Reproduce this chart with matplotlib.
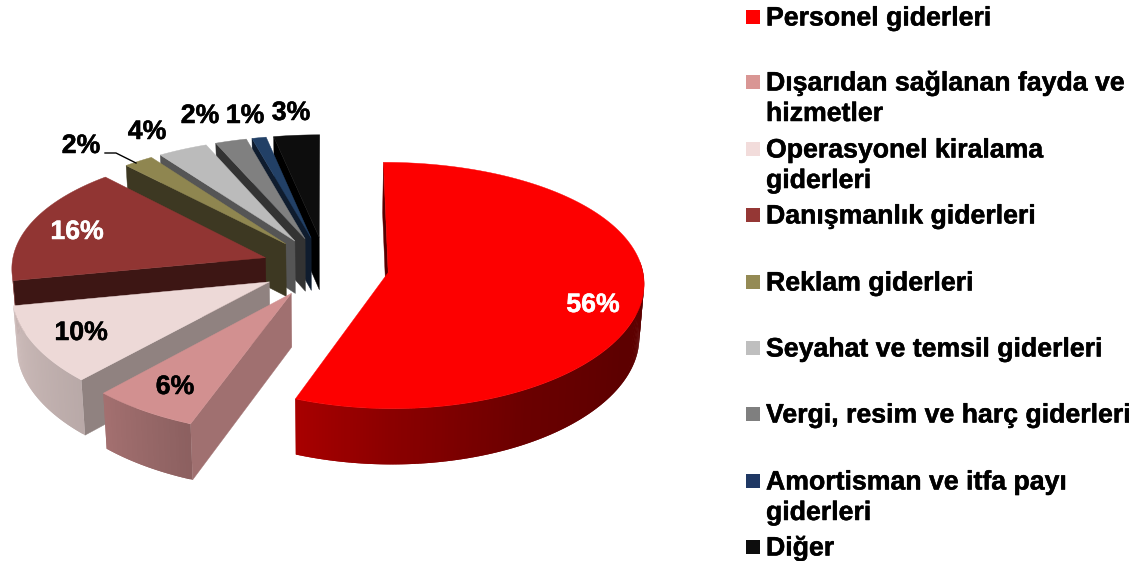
import numpy as np
import matplotlib
matplotlib.use("Agg")
import matplotlib.pyplot as plt
from matplotlib.patches import Polygon, Rectangle
import matplotlib.patheffects as pe

# ---- data ----
categories = ["Personel giderleri", "Dışarıdan sağlanan fayda ve\nhizmetler",
              "Operasyonel kiralama\ngiderleri", "Danışmanlık giderleri",
              "Reklam giderleri", "Seyahat ve temsil giderleri",
              "Vergi, resim ve harç giderleri", "Amortisman ve itfa payı\ngiderleri", "Diğer"]
values = [55.8, 6.2, 10, 16, 2.1, 3.5, 2.2, 1, 3.2]
legend_colors = ["#FF0000", "#D99694", "#F2DCDB", "#953735", "#948A54",
                 "#BFBFBF", "#7F7F7F", "#1F3864", "#0D0D0D"]
top_colors = ["#FD0000", "#D29090", "#EDD9D7", "#913533", "#8F8650",
              "#BBBBBB", "#808080", "#224066", "#0D0D0D"]
face_colors = ["#5A0000", "#A07070", "#908280", "#3D1614", "#3D3822",
               "#555555", "#333333", "#0F1C2E", "#000000"]
label_colors = ["white", "black", "black", "white", "black", "black", "black", "black", "black"]
label_pos = [(593, 305), (175, 387), (81, 333), (77, 232), (81, 146),
             (147, 132), (200, 116), (245, 116), (291, 113)]
legend_y = [17, 82, 149, 215, 282, 348, 414, 481, 547]

# ---- projection (pixel frame of the 1136x561 figure) ----
CX, CY, R_PX, B_PX = 325.5, 267.0, 254.0, 122.0
EXPLODE, PX, QY, DEPTH = 0.25, 0.075, 0.106, 53.0


def project(X, Y, down=False):
    X, Y = np.asarray(X, float), np.asarray(Y, float)
    sx = CX + R_PX * X * (1 + PX * Y)
    sy = CY + B_PX * Y * (1 + QY * Y)
    if down:
        sx = CX + (sx - CX) * 0.985
        sy = sy + DEPTH * (1 + 0.05 * Y)
    return sx, sy


def shade(theta):
    return np.interp(theta, [0, 90, 120, 150, 180, 201.6, 223, 260, 360],
                     [.36, .36, .37, .42, .55, .67, .78, .87, .87])


plt.rcParams["font.family"] = "Liberation Sans"
fig = plt.figure(figsize=(11.36, 5.61), dpi=100)
ax = fig.add_axes([0, 0, 1, 1])
ax.set_xlim(0, 1136)
ax.set_ylim(561, 0)
ax.axis("off")

edges = np.concatenate([[0], np.cumsum(values)]) * 3.6
order = list(range(len(values)))[::-1]

for n, i in enumerate(order):
    a0, a1 = edges[i], edges[i + 1]
    mid = np.radians((a0 + a1) / 2)
    ox, oy = EXPLODE * np.sin(mid), -EXPLODE * np.cos(mid)
    th = np.linspace(a0, a1, max(int((a1 - a0) * 1.5), 4))
    rim_x = ox + np.sin(np.radians(th))
    rim_y = oy - np.cos(np.radians(th))
    tx, ty = project(rim_x, rim_y)
    bx, by = project(rim_x, rim_y, down=True)
    ax_t, ay_t = project(ox, oy)
    ax_b, ay_b = project(ox, oy, down=True)
    z = 2 + n * 3
    # flat radial face at the start of the slice (the other one looks away)
    ax.add_patch(Polygon([(ax_t, ay_t), (tx[0], ty[0]), (bx[0], by[0]), (ax_b, ay_b)],
                         fc=face_colors[i], ec=face_colors[i], lw=0.3, zorder=z))
    # outer wall with a gradient along the rim, front part only
    rgb = np.array(matplotlib.colors.to_rgb(top_colors[i]))
    for k in range(len(th) - 1):
        if not 85 < th[k] < 262:
            continue
        c = rgb * shade(th[k])
        e = min(k + 2, len(th) - 1)
        ax.add_patch(Polygon([(tx[k], ty[k]), (tx[e], ty[e]), (bx[e], by[e]), (bx[k], by[k])],
                             fc=c, ec="none", zorder=z + 1))
    # top surface
    ax.add_patch(Polygon(np.vstack([[ax_t, ay_t], np.column_stack([tx, ty])]),
                         fc=top_colors[i], ec=top_colors[i], lw=0.3, zorder=z + 2))

# data labels
for v, c, (x, y) in zip(values, label_colors, label_pos):
    ax.text(x, y, f"{round(v)}%", color=c, fontsize=19.2, fontweight="bold",
            ha="center", va="center", zorder=50,
            path_effects=[pe.withStroke(linewidth=0.35, foreground=c)])
ax.plot([105, 116, 136], [153, 153, 163], color="black", lw=1, zorder=49)

# legend
for name, col, y in zip(categories, legend_colors, legend_y):
    ax.add_patch(Rectangle((746, y - 7), 13.5, 14, fc=col, ec="none", zorder=50))
    for j, line in enumerate(name.split("\n")):
        ax.text(766, y + 8.5 + j * 30.5, line, color="black", fontsize=19.2, fontweight="bold",
                ha="left", va="baseline", zorder=50,
                path_effects=[pe.withStroke(linewidth=0.35, foreground="black")])

fig.savefig("out.png", dpi=100)
